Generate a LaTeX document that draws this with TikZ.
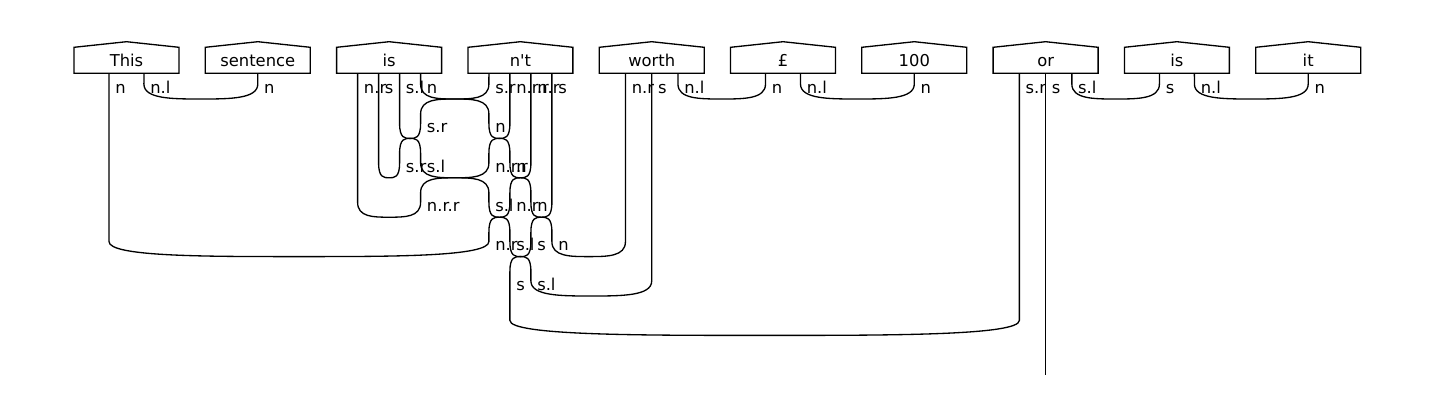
\documentclass[tikz,border=0pt]{standalone}
\usepackage{fontspec}
\setmainfont{DejaVu Sans}
\usetikzlibrary{calc}
\tikzset{
  wordbox/.style={minimum width=2.1cm, minimum height=0.52cm, outer sep=0pt,
    inner sep=0pt, text height=6.8pt, text depth=0pt},
  wire/.style={line width=0.75pt},
  lbl/.style={anchor=base west, inner sep=0pt},
  % a wire moving sideways from #1 to #3 round level #2
  wirehop/.style n args={3}{insert path={-- (#1,#2-15) .. controls (#1,#2+15) and (#3,#2-15) .. (#3,#2+15)}},
  % a cup from #1 to #3 with its bottom at level #2
  wirecup/.style n args={3}{insert path={-- (#1,#2-15) .. controls (#1,#2) and ({0.75*#1+0.25*#3},#2) .. ({0.5*#1+0.5*#3},#2)
    .. controls ({0.25*#1+0.75*#3},#2) and (#3,#2) .. (#3,#2-15)}}
}
\begin{document}
\begin{tikzpicture}[x=0.02cm, y=-0.02cm, every node/.style={font=\fontsize{9.3pt}{11pt}\selectfont}]
  \useasboundingbox (0,0) rectangle (1434,419);

  % Drawing word boxes
  \node[wordbox] (this) at (126.5,60.3) {This};
  \node[wordbox] (sentence) at (257.8,60.3) {sentence};
  \node[wordbox] (is) at (389.1,60.3) {is};
  \node[wordbox] (nt) at (520.4,60.3) {n\textquotesingle t};
  \node[wordbox] (worth) at (651.7,60.3) {worth};
  \node[wordbox] (pound) at (783.0,60.3) {£};
  \node[wordbox] (hundred) at (914.3,60.3) {100};
  \node[wordbox] (or) at (1045.6,60.3) {or};
  \node[wordbox] (is2) at (1176.9,60.3) {is};
  \node[wordbox] (it) at (1308.2,60.3) {it};

  % Drawing outlines of the boxes, with their roofs
  \foreach \b in {this,sentence,is,nt,worth,pound,hundred,or,is2,it}
    \draw[wire] (\b.north west) -- ([yshift=0.112cm]\b.north) -- (\b.north east)
      -- (\b.south east) -- (\b.south west) -- cycle;

  % Marking output ports
  \coordinate (this-n) at ($(this.south west)!1/3!(this.south east)$);
  \coordinate (this-nl) at ($(this.south west)!2/3!(this.south east)$);
  \coordinate (sentence-n) at (sentence.south);
  \coordinate (is-nr) at ($(is.south west)!1/5!(is.south east)$);
  \coordinate (is-s) at ($(is.south west)!2/5!(is.south east)$);
  \coordinate (is-sl) at ($(is.south west)!3/5!(is.south east)$);
  \coordinate (is-n) at ($(is.south west)!4/5!(is.south east)$);
  \coordinate (nt-sr) at ($(nt.south west)!1/5!(nt.south east)$);
  \coordinate (nt-nrr) at ($(nt.south west)!2/5!(nt.south east)$);
  \coordinate (nt-nr) at ($(nt.south west)!3/5!(nt.south east)$);
  \coordinate (nt-s) at ($(nt.south west)!4/5!(nt.south east)$);
  \coordinate (worth-nr) at ($(worth.south west)!1/4!(worth.south east)$);
  \coordinate (worth-s) at ($(worth.south west)!2/4!(worth.south east)$);
  \coordinate (worth-nl) at ($(worth.south west)!3/4!(worth.south east)$);
  \coordinate (pound-n) at ($(pound.south west)!1/3!(pound.south east)$);
  \coordinate (pound-nl) at ($(pound.south west)!2/3!(pound.south east)$);
  \coordinate (hundred-n) at (hundred.south);
  \coordinate (or-sr) at ($(or.south west)!1/4!(or.south east)$);
  \coordinate (or-s) at ($(or.south west)!2/4!(or.south east)$);
  \coordinate (or-sl) at ($(or.south west)!3/4!(or.south east)$);
  \coordinate (is2-s) at ($(is2.south west)!1/3!(is2.south east)$);
  \coordinate (is2-nl) at ($(is2.south west)!2/3!(is2.south east)$);
  \coordinate (it-n) at (it.south);
  \coordinate (out-s) at (1045.6,375);

  % Drawing wires
  \draw[wire] (this-nl) [wirecup={143.9}{99}{257.8}] -- (sentence-n);
  \draw[wire] (nt-nr) [wirehop={530.9}{177.8}{509.9}] [wirehop={509.9}{217.2}{488.9}]
    [wirecup={488.9}{256.6}{109.0}] -- (this-n);
  \draw[wire] (nt-nrr) [wirehop={509.9}{138.4}{488.9}] [wirehop={488.9}{177.8}{420.6}]
    [wirecup={420.6}{217.2}{357.6}] -- (is-nr);
  \draw[wire] (nt-sr) [wirehop={488.9}{99}{420.6}] [wirehop={420.6}{138.4}{399.6}]
    [wirecup={399.6}{177.8}{378.6}] -- (is-s);
  \draw[wire] (is-sl) [wirehop={399.6}{138.4}{420.6}] [wirehop={420.6}{177.8}{488.9}]
    [wirehop={488.9}{217.2}{509.9}] [wirehop={509.9}{256.6}{530.9}]
    [wirecup={530.9}{296}{651.7}] -- (worth-s);
  \draw[wire] (is-n) [wirehop={420.6}{99}{488.9}] [wirehop={488.9}{138.4}{509.9}]
    [wirehop={509.9}{177.8}{530.9}] [wirehop={530.9}{217.2}{551.9}]
    [wirecup={551.9}{256.6}{625.45}] -- (worth-nr);
  \draw[wire] (nt-s) [wirehop={551.9}{217.2}{530.9}] [wirehop={530.9}{256.6}{509.9}]
    [wirecup={509.9}{335.4}{1019.35}] -- (or-sr);
  \draw[wire] (worth-nl) [wirecup={677.95}{99}{765.5}] -- (pound-n);
  \draw[wire] (pound-nl) [wirecup={800.5}{99}{914.3}] -- (hundred-n);
  \draw[wire] (or-s) -- (out-s);
  \draw[wire] (or-sl) [wirecup={1071.85}{99}{1159.4}] -- (is2-s);
  \draw[wire] (is2-nl) [wirecup={1194.4}{99}{1308.2}] -- (it-n);

  % Marking types of the wires
  \foreach \x/\t [count=\i] in {109/n, 143.9/n.l, 257.8/n, 357.6/n.r, 378.6/s, 399.6/s.l, 420.6/n,
      488.9/s.r, 509.9/n.r.r, 530.9/n.r, 551.9/s, 625.45/n.r, 651.7/s, 677.95/n.l, 765.5/n,
      800.5/n.l, 914.3/n, 1019.35/s.r, 1045.6/s, 1071.85/s.l, 1159.4/s, 1194.4/n.l, 1308.2/n}
    \node[lbl] (ta-\i) at (\x+6,93.3) {\t};
  \foreach \x/\t [count=\i] in {420.6/s.r, 488.9/n}
    \node[lbl] (tb-\i) at (\x+6,132.7) {\t};
  \foreach \x/\t [count=\i] in {399.6/s.r, 420.6/s.l, 488.9/n.r.r, 509.9/n}
    \node[lbl] (tc-\i) at (\x+6,172.1) {\t};
  \foreach \x/\t [count=\i] in {420.6/n.r.r, 488.9/s.l, 509.9/n.r, 530.9/n}
    \node[lbl] (td-\i) at (\x+6,211.5) {\t};
  \foreach \x/\t [count=\i] in {488.9/n.r, 509.9/s.l, 530.9/s, 551.9/n}
    \node[lbl] (te-\i) at (\x+6,250.9) {\t};
  \foreach \x/\t [count=\i] in {509.9/s, 530.9/s.l}
    \node[lbl] (tf-\i) at (\x+6,290.3) {\t};
\end{tikzpicture}
\end{document}
